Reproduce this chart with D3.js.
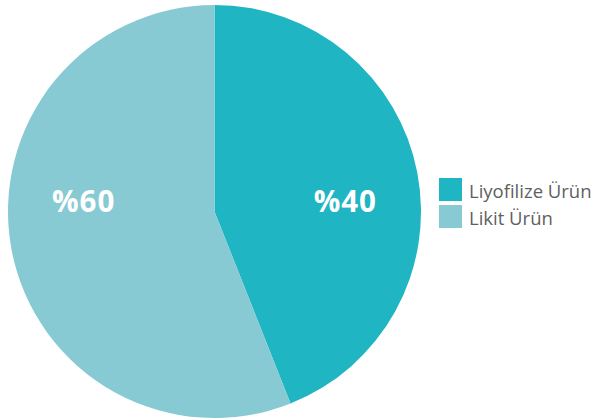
<!DOCTYPE html>
<html>
<head>
<meta charset="utf-8">
<script src="https://cdn.jsdelivr.net/npm/d3@7"></script>
<style>
  html, body { margin: 0; padding: 0; background: #fff; }
  svg { display: block; }
</style>
</head>
<body>
<div id="chart"></div>
<script>
// Chart data
const categories = ['Liyofilize Ürün', 'Likit Ürün'];
const values = [44, 56];
const valueLabels = ['%40', '%60'];
const colors = ['#20b5c3', '#88cad3'];

const width = 597;
const height = 418;

const svg = d3.select('#chart').append('svg')
    .attr('width', width)
    .attr('height', height);

const cx = 214.5;
const cy = 211.5;
const radius = 206.5;

const pie = d3.pie().sort(null).value(d => d);
const arcs = pie(values);

const arc = d3.arc().innerRadius(0).outerRadius(radius);
const labelArc = d3.arc().innerRadius(radius * 0.645).outerRadius(radius * 0.645);

const g = svg.append('g')
    .attr('transform', `translate(${cx}, ${cy})`);

g.selectAll('path.slice')
    .data(arcs)
    .enter()
    .append('path')
    .attr('class', 'slice')
    .attr('d', arc)
    .attr('fill', (d, i) => colors[i]);

// Percent labels sit on a common horizontal line
g.selectAll('text.pct')
    .data(arcs)
    .enter()
    .append('text')
    .attr('class', 'pct')
    .attr('x', d => labelArc.centroid(d)[0])
    .attr('y', -11)
    .attr('text-anchor', 'middle')
    .attr('dominant-baseline', 'central')
    .attr('fill', '#ffffff')
    .attr('font-family', '"Open Sans", sans-serif')
    .attr('font-weight', 'bold')
    .attr('font-size', '29.5px')
    .attr('letter-spacing', '1px')
    .text((d, i) => valueLabels[i]);

// Legend
const legend = svg.append('g')
    .attr('transform', 'translate(439, 178)');

const items = legend.selectAll('g.item')
    .data(categories)
    .enter()
    .append('g')
    .attr('class', 'item')
    .attr('transform', (d, i) => `translate(0, ${i * 27})`);

items.append('rect')
    .attr('width', 23)
    .attr('height', 23)
    .attr('fill', (d, i) => colors[i]);

items.append('text')
    .attr('x', 30)
    .attr('y', 12)
    .attr('dominant-baseline', 'central')
    .attr('fill', '#5f5f5f')
    .attr('font-family', '"Open Sans", sans-serif')
    .attr('font-size', '18.5px')
    .text(d => d);
</script>
</body>
</html>
